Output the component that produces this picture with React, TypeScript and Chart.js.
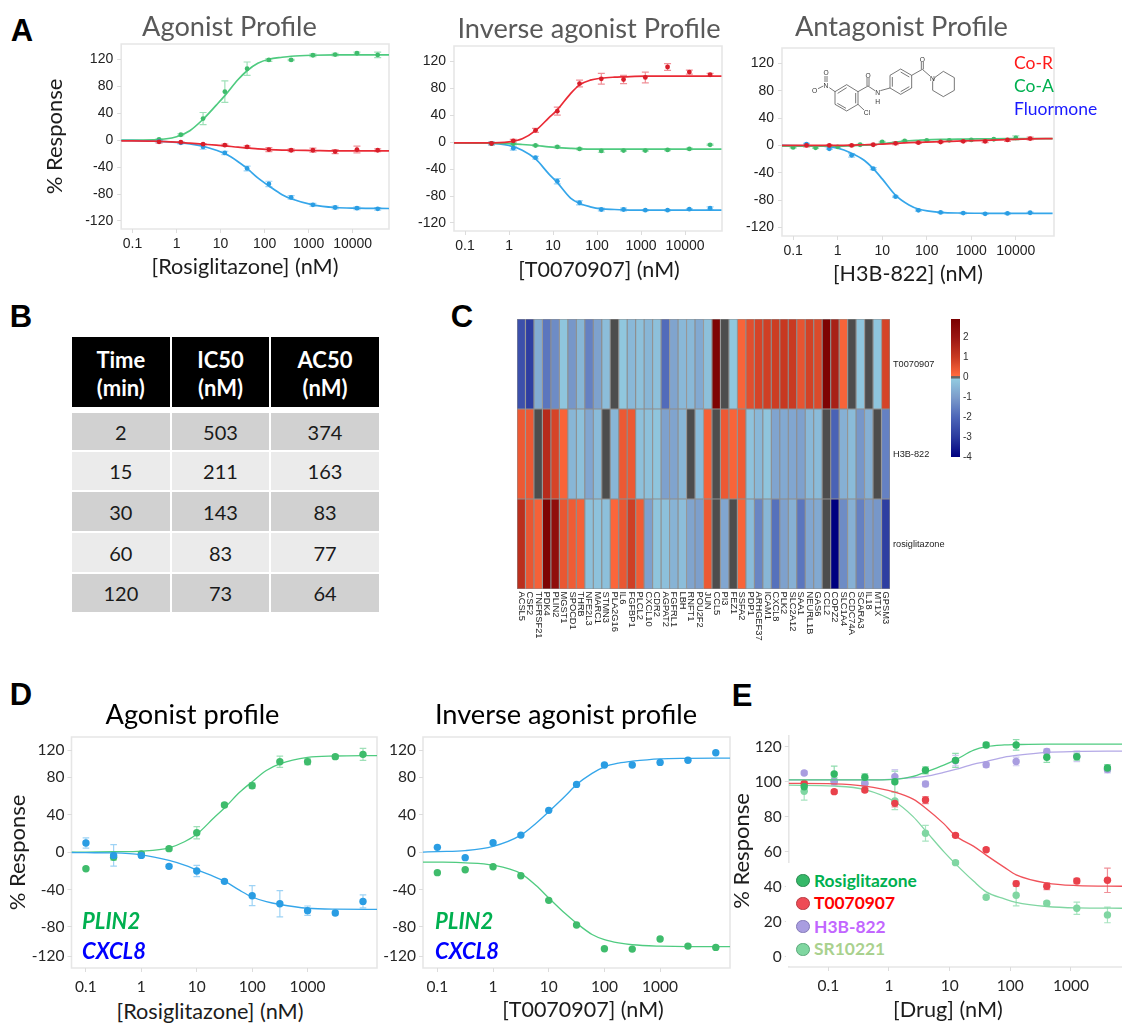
import React, { useEffect, useRef } from "react";
import { Chart, registerables } from "chart.js";

Chart.register(...registerables);

// ---------- Panel A data ----------
const doseA = [0.4, 1.25, 4, 12.5, 40, 125, 400, 1250, 4000, 12500, 37000];
const gridA = [0.055, 0.3, 1, 2, 4, 8, 12.5, 25, 40, 70, 125, 250, 400, 1250, 4000, 12500, 67000];

const a1GreenPts = [1, 8, 32, 72, 106, 119, 119, 126, 127, 129, 126.5];
const a1GreenErr = [1, 1.5, 9, 16, 10, 2, 1, 2, 2, 1.5, 4];
const a1GreenFit = [0, 0.5, 5, 14, 31, 52, 66, 90, 103, 114, 120, 123, 124.5, 126, 126.5, 126.5, 126.5];
const a1RedPts = [-2.5, -3, -6, -7.5, -10, -14, -15, -15, -17, -14, -15];
const a1RedErr = [2, 1, 1, 1.5, 1.5, 3, 2, 3, 3, 5, 2];
const a1RedFit = [-1, -1.5, -3, -4.5, -6, -7.5, -8.5, -10.5, -11.5, -13, -14, -14.8, -15, -15.5, -16, -16, -16];
const a1BluePts = [-2, -4, -10, -19, -42, -65, -85, -96, -100, -101, -102];
const a1BlueErr = [1, 1.5, 3.5, 2.5, 3.5, 4, 2.5, 2, 2, 2, 2];
const a1BlueFit = [-0.5, -1.5, -3.5, -5.5, -9, -15, -20, -32, -42, -56, -68, -81, -87, -96, -100, -101, -101.5];

const a2RedPts = [-2, 2, 17.5, 46, 87, 94, 93, 96, 111.5, 104, 100];
const a2RedErr = [2, 2, 3, 6, 5, 8, 6, 8, 5, 3, 2];
const a2RedFit = [-1, -1, 0.5, 5, 17, 36, 48, 72, 85, 92, 95, 96.5, 97, 98, 98, 98, 98];
const a2GreenPts = [-2, -2.5, -5, -7, -10, -13, -12.5, -12.5, -11.5, -10, -4];
const a2GreenErr = [1, 1, 1, 1, 1, 2, 1, 1, 1, 1, 1];
const a2GreenFit = [-1, -1.5, -2.3, -3.5, -5, -7, -8, -9.3, -10, -10.3, -10.5, -10.5, -10.5, -10.5, -10.5, -10.5, -10.5];
const a2BluePts = [-2, -9, -23, -58, -90, -100, -100, -101, -101, -99.5, -98];
const a2BlueErr = [2, 3, 2, 4, 3, 2, 2, 1, 1, 1, 2];
const a2BlueFit = [-1, -1.5, -5, -12, -25, -47, -60, -83, -91, -96, -99, -100, -100.5, -101, -101, -101, -101];

const doseA3Half = [0.2, 0.65, 2.06, 6.3, 20, 65, 205, 660, 2050, 6500, 21000];
const doseA3Green = [0.1, 0.32, 1, 3.2, 10, 32, 100, 320, 1000, 3200, 10000];
const gridA3 = [0.055, 0.3, 1, 2, 4, 6.3, 10, 20, 40, 65, 205, 660, 2050, 6500, 21000, 67000];
const a3BluePts = [2, -5, -14.5, -34, -75, -95, -98, -99, -100, -99.5, -98.5];
const a3BlueErr = [1, 1, 2.5, 1.5, 1, 1, 1, 1, 1, 1, 1];
const a3BlueFit = [0, -0.7, -4, -11, -22, -34, -49, -73, -87, -93, -98, -99, -99.3, -99.5, -99.5, -99.5];
const a3RedPts = [0, 0, 0, 1, 3, 4, 5, 6, 6, 8, 10];
const a3RedErr = [2, 1, 1, 1, 2, 1, 1, 1, 2, 2, 2];
const a3RedFit = [0, 0, 0, 0.3, 1, 1.3, 2, 3, 4, 4.5, 5.5, 6.5, 7.5, 8.5, 9.5, 10];
const a3GreenPts = [-3, -3.5, -2, 1, 5, 6.5, 7.5, 7.5, 8, 9, 11];
const a3GreenErr = [1, 1, 1, 1, 1, 1, 1, 1, 1, 1, 3];
const a3GreenFit = [-1, -1, -1, -0.5, 0.3, 1, 2.5, 5, 6.8, 7.5, 8.8, 9.3, 9.6, 9.9, 10, 10];

// ---------- Panel B data ----------
const tableHead = [["Time", "(min)"], ["IC50", "(nM)"], ["AC50", "(nM)"]];
const tableTime = ["2", "15", "30", "60", "120"];
const tableIC50 = ["503", "211", "143", "83", "73"];
const tableAC50 = ["374", "163", "83", "77", "64"];

// ---------- Panel C data ----------
const genes = ["ACSL5", "CSF2", "TNFRSF21", "PDK4", "PLIN2", "MGST1", "SPOCD1", "THRB", "NFE2L3", "MARC1", "STMN3", "PLA2G16", "IL6", "FGFBP1", "PLCL2", "CXCL10", "CDR2", "AGPAT2", "FGFRL1", "LBH", "RNFT1", "POU2F2", "JUN", "CCL5", "PI3", "FEZ1", "SSFA2", "PDP1", "ARHGEF37", "ICAM1", "CXCL8", "PLK2", "SLC2A12", "SAA1", "NEURL1B", "GAS6", "CCL2", "COPZ2", "SLC1A4", "CCDC74A", "SCARA3", "IL18", "MT1X", "GPSM3"];
const heatT = [-2.5, -2.9, -0.7, -1.7, -1.3, -0.2, -1.1, -0.5, -1.5, -0.9, -0.35, null, -0.15, -0.45, -0.3, -0.5, -0.3, -1.9, -0.85, -0.45, -0.45, -0.75, -0.3, 2.8, null, -0.15, 0.2, 0.6, 0.8, 0.9, 0.95, 1.05, 1.0, 0.5, 0.85, 0.7, 2.8, 1.7, 0.2, null, -0.2, null, -0.2, 0.8];
const heatH = [0.4, 0.4, null, 1.4, 0.8, 0.2, -0.5, -0.3, -0.8, -0.4, null, -0.5, 0.4, 0.4, -0.3, -0.3, -0.2, -0.9, -0.85, -0.5, null, -0.4, 0.25, null, 0.4, 0.2, 0.35, -0.25, -0.45, -0.2, -0.85, -0.75, -0.8, -0.9, -0.45, -0.4, null, -2.1, -0.6, -0.4, -1.1, -0.6, null, -1.5];
const heatR = [1.3, 0.45, 0.25, 2.8, 2.3, 0.45, 0.35, 0.25, -0.3, -0.25, -0.3, 0.15, 0.45, 0.9, 0.35, -0.9, -0.2, -0.3, -0.55, -0.35, -0.85, -0.95, 0.4, null, -0.8, null, 0.2, -0.4, -1.4, -0.5, -1.8, -0.9, -0.6, -1.7, -0.8, -0.75, null, -4, -1.3, -0.6, -1.5, -1, -1.1, -2.9];
const heatRows = ["T0070907", "H3B-822", "rosiglitazone"];
const heatStopValues = [2.93, 2, 1, 0.08, 0.04, -0.04, -0.08, -1, -2, -3, -4];
const heatStopColors = ["#7a0000", "#9a1512", "#c93a22", "#ff6a3d", "#666666", "#666666", "#92cbe0", "#7c9ccb", "#4d66b8", "#2a3a9e", "#000080"];
const barTicks = [2, 1, 0, -1, -2, -3, -4];

// ---------- Panel D data ----------
const doseD = [0.1, 0.316, 1, 3.16, 10, 31.6, 100, 316, 1000, 3162, 10000];
const gridD = [0.055, 0.1, 0.316, 1, 3.16, 6, 10, 20, 31.6, 60, 100, 180, 316, 1000, 3162, 18000];
const d1GreenPts = [-17.8, -5.7, -2.1, 3.6, 20.6, 50.2, 70.8, 96.4, 96.4, 101.8, 104.3];
const d1GreenErr = [1, 3, 2, 2, 6.5, 2, 3, 6, 3, 2, 6.4];
const d1GreenFit = [0, 0, 0.3, 1, 4.5, 11, 19, 36, 47, 64, 75, 87, 94, 101, 102.5, 103];
const d1BluePts = [9.6, -3.6, -3.6, -15.3, -20.3, -31.3, -46.6, -55.2, -62.6, -65.1, -52.7];
const d1BlueErr = [5.5, 11.5, 2, 2, 6, 2, 10.7, 14, 5, 2, 7];
const d1BlueFit = [-0.5, -0.7, -1, -3, -9, -14, -19, -26, -31, -41, -48, -53, -56, -60, -61, -61.2];
const d2BluePts = [5, -6, 10, 18.1, 44.5, 72.2, 92.9, 92.9, 95.7, 97.9, 106];
const d2BlueFit = [0, 0.5, 1.5, 6, 18, 31, 43, 60, 72, 84, 91, 95, 97, 99.5, 100, 100.3];
const d2GreenPts = [-22, -18.9, -15.7, -25.3, -51.6, -77.9, -103.2, -103.6, -92.9, -100.4, -101.8];
const d2GreenFit = [-10.7, -10.8, -11.5, -14, -23, -36, -49, -66, -76, -88, -93.5, -97, -99, -100.5, -101, -101];

// ---------- Panel E data ----------
const doseE = [0.04, 0.125, 0.4, 1.25, 4, 12.5, 40, 125, 400, 1250, 4000];
const gridE = [0.022, 0.125, 0.4, 1.25, 2.5, 4, 8, 12.5, 25, 40, 80, 125, 400, 1250, 7000];
const eRosiPts = [97.1, 104.4, 102.5, 100, 106.5, 112.2, 121, 121, 114, 114.3, 107.8];
const eRosiErr = [2, 4.5, 2, 6, 2, 4, 1.5, 3, 3, 2, 2];
const eRosiFit = [101, 101, 101, 101.3, 103, 105.5, 109.5, 112.5, 118, 120, 121, 121.2, 121.5, 121.5, 121.5];
const eT007Pts = [99, 94.3, 95.2, 87.6, 89.5, 69.3, 61.1, 41.7, 40.2, 43.2, 43.6];
const eT007Err = [1, 1, 1, 2, 2, 1, 1, 1.5, 2, 1.5, 7];
const eT007Fit = [99, 98.8, 97.5, 94, 90, 85, 76, 69, 63, 58, 51, 46.7, 42, 40.6, 40.2];
const eH3bPts = [105, 100, 99, 102.9, 98.7, 112, 109.7, 111.6, 117.3, 114.5, 107];
const eH3bErr = [1, 2, 1.5, 4, 1.5, 3, 1.5, 2.5, 1.5, 3, 2];
const eH3bFit = [101, 101, 101, 101.5, 102.3, 103, 105.3, 107, 110, 111.5, 114, 115, 116.8, 117.3, 117.5];
const eSrPts = [94.5, 100.4, 99, 89, 70.5, 53.7, 33.9, 35, 30.5, 27.6, 23.8];
const eSrErr = [5, 2, 2, 5, 4.5, 1, 1, 6, 1, 3.5, 4.5];
const eSrFit = [98, 97.5, 95.5, 88.5, 80, 72, 60, 53, 43, 37, 33, 31, 28.6, 27.8, 27.6];

// ---------- Axis ticks ----------
const logTicksA = [0.1, 1, 10, 100, 1000, 10000];
const logTicksD = [0.1, 1, 10, 100, 1000];
const yTicksA = [120, 80, 40, 0, -40, -80, -120];
const yTicksE = [120, 100, 80, 60, 40, 20, 0];
const yTicksDAt = [108.5, 80, 40, 0, -40, -80, -111.4];
const yTicksDText = ["120", "80", "40", "0", "-40", "-80", "-120"];

// ---------- Styles ----------
const SANS = "'Liberation Sans', Arial, sans-serif";
const CAL = "Lato, 'Open Sans', sans-serif";
const GREEN = { pt: "#3fbc6c", line: "#4fcb80", err: "#9fe0b8" };
const RED = { pt: "#d81e2a", line: "#ea2a35", err: "#f09098" };
const BLUE = { pt: "#2a9de3", line: "#35a6ea", err: "#9ed3f5" };

const pairs = (xs: number[], ys: number[]) => xs.map((x, i) => ({ x, y: ys[i] }));

function hexRgb(h: string) {
  return [parseInt(h.slice(1, 3), 16), parseInt(h.slice(3, 5), 16), parseInt(h.slice(5, 7), 16)];
}
function heatColor(v: number | null) {
  if (v === null) return "#4d4d4d";
  for (let i = 0; i < heatStopValues.length - 1; i++) {
    const a = heatStopValues[i], b = heatStopValues[i + 1];
    if (v <= a && v >= b) {
      const t = a === b ? 0 : (a - v) / (a - b);
      const c1 = hexRgb(heatStopColors[i]), c2 = hexRgb(heatStopColors[i + 1]);
      const m = c1.map((c, k) => Math.round(c + (c2[k] - c) * t));
      return `rgb(${m[0]},${m[1]},${m[2]})`;
    }
  }
  return "#000080";
}

const errorBars = {
  id: "errorBars",
  beforeDatasetsDraw(chart: any) {
    const { ctx, scales } = chart;
    chart.data.datasets.forEach((ds: any) => {
      if (!ds.errors) return;
      ctx.save();
      ctx.strokeStyle = ds.errorColor;
      ctx.lineWidth = 1.2;
      ds.data.forEach((p: any, i: number) => {
        const e = ds.errors[i];
        const x = scales.x.getPixelForValue(p.x);
        const y1 = scales.y.getPixelForValue(p.y + e);
        const y2 = scales.y.getPixelForValue(p.y - e);
        ctx.beginPath();
        ctx.moveTo(x, y1); ctx.lineTo(x, y2);
        ctx.moveTo(x - ds.capSize, y1); ctx.lineTo(x + ds.capSize, y1);
        ctx.moveTo(x - ds.capSize, y2); ctx.lineTo(x + ds.capSize, y2);
        ctx.stroke();
      });
      ctx.restore();
    });
  },
};

const frame = {
  id: "frame",
  beforeDraw(chart: any, _a: any, opts: any) {
    if (!opts.sides) return;
    const { ctx, chartArea: c } = chart;
    ctx.save();
    ctx.strokeStyle = opts.color || "#e6e6e6";
    ctx.lineWidth = opts.width || 1.6;
    ctx.beginPath();
    if (opts.sides === "all") {
      ctx.rect(c.left, c.top, c.right - c.left, c.bottom - c.top);
    } else {
      ctx.moveTo(c.left, c.top); ctx.lineTo(c.left, c.bottom); ctx.lineTo(c.right, c.bottom);
    }
    ctx.stroke();
    ctx.restore();
  },
};

const geneLabels = {
  id: "geneLabels",
  afterDraw(chart: any) {
    const { ctx, scales, chartArea } = chart;
    ctx.save();
    ctx.font = `9.3px ${SANS}`;
    ctx.fillStyle = "#222";
    ctx.textAlign = "left";
    ctx.textBaseline = "middle";
    genes.forEach((g, i) => {
      ctx.save();
      ctx.translate(scales.x.getPixelForTick(i), chartArea.bottom + 2.5);
      ctx.rotate(Math.PI / 2);
      ctx.fillText(g, 0, 0);
      ctx.restore();
    });
    ctx.restore();
  },
};

type Series = { xs: number[]; pts: number[]; err?: number[]; grid: number[]; fit: number[]; c: { pt: string; line: string; err: string } };

type Panel = {
  plot: [number, number, number, number];
  xMin: number; xMax: number; xTicks: number[];
  yMin: number; yMax: number; yTicks: number[]; yText?: string[];
  yTitle?: string; yTitleX?: number; titleSize?: number;
  font: { family: string; size: number }; tickColor: string;
  xPad: number; yPad: number;
  series: Series[]; r: number; lw: number; cap: number; sides: string;
};

function doseChart(p: Panel) {
  const [l, t, r, b] = p.plot;
  const fs = p.titleSize || 22;
  const cx = p.yTitle ? (p.yTitleX as number) - fs * 0.6 : l - 60;
  const cy = t - 16;
  const cr = Math.min(r + 6, 1125);
  const cb = b + 28;
  const config: any = {
    type: "scatter",
    data: {
      datasets: p.series.flatMap((s) => [
        {
          data: pairs(s.xs, s.pts),
          backgroundColor: s.c.pt,
          borderColor: s.c.pt,
          pointRadius: p.r,
          pointBorderWidth: 0,
          showLine: false,
          errors: s.err,
          errorColor: s.c.err,
          capSize: p.cap,
        },
        {
          data: pairs(s.grid, s.fit),
          borderColor: s.c.line,
          borderWidth: p.lw,
          pointRadius: 0,
          showLine: true,
          cubicInterpolationMode: "monotone",
          fill: false,
        },
      ]),
    },
    options: {
      animation: false,
      responsive: false,
      events: [],
      layout: { padding: { top: t - cy, right: cr - r, left: 0, bottom: 0 } },
      plugins: { legend: { display: false }, tooltip: { enabled: false }, frame: { sides: p.sides } },
      scales: {
        x: {
          type: "logarithmic",
          min: p.xMin,
          max: p.xMax,
          afterBuildTicks: (s: any) => { s.ticks = p.xTicks.map((v) => ({ value: v })); },
          afterFit: (s: any) => { s.height = cb - b; },
          border: { display: false },
          grid: { display: true, drawOnChartArea: false, drawTicks: true, tickLength: 4, color: "#dcdcdc" },
          ticks: { autoSkip: false, maxRotation: 0, padding: p.xPad, color: p.tickColor, font: p.font, callback: (v: any) => String(v) },
        },
        y: {
          type: "linear",
          min: p.yMin,
          max: p.yMax,
          afterBuildTicks: (s: any) => { s.ticks = p.yTicks.map((v) => ({ value: v })); },
          afterFit: (s: any) => { s.width = l - cx; },
          border: { display: false },
          grid: { display: true, drawOnChartArea: false, drawTicks: true, tickLength: 4, color: "#dcdcdc" },
          title: p.yTitle ? { display: true, text: p.yTitle, color: "#1c1c1c", padding: 0, font: { family: CAL, size: fs } } : { display: false },
          ticks: {
            autoSkip: false,
            padding: p.yPad,
            color: p.tickColor,
            font: p.font,
            callback: (v: any) => {
              const i = p.yTicks.indexOf(v);
              return p.yText && i >= 0 ? p.yText[i] : String(v);
            },
          },
        },
      },
    },
    plugins: [errorBars, frame],
  };
  return { rect: [cx, cy, cr - cx, cb - cy] as number[], config };
}

const aFont = { family: SANS, size: 14 };
const dFont = { family: CAL, size: 15.5 };

const panels: Panel[] = [
  {
    plot: [121, 44, 389, 229], xMin: 0.0553, xMax: 66800, xTicks: logTicksA,
    yMin: -131.9, yMax: 142.7, yTicks: yTicksA, yTitle: "% Response", yTitleX: 55,
    font: aFont, tickColor: "#222", xPad: 3, yPad: 4, r: 2.4, lw: 1.7, cap: 3.5, sides: "all",
    series: [
      { xs: doseA, pts: a1RedPts, err: a1RedErr, grid: gridA, fit: a1RedFit, c: RED },
      { xs: doseA, pts: a1BluePts, err: a1BlueErr, grid: gridA, fit: a1BlueFit, c: BLUE },
      { xs: doseA, pts: a1GreenPts, err: a1GreenErr, grid: gridA, fit: a1GreenFit, c: GREEN },
    ],
  },
  {
    plot: [454.3, 46, 722.3, 231], xMin: 0.0562, xMax: 69000, xTicks: logTicksA,
    yMin: -131.9, yMax: 142.7, yTicks: yTicksA,
    font: aFont, tickColor: "#222", xPad: 3, yPad: 4, r: 2.4, lw: 1.7, cap: 3.5, sides: "all",
    series: [
      { xs: doseA, pts: a2RedPts, err: a2RedErr, grid: gridA, fit: a2RedFit, c: RED },
      { xs: doseA, pts: a2GreenPts, err: a2GreenErr, grid: gridA, fit: a2GreenFit, c: GREEN },
      { xs: doseA, pts: a2BluePts, err: a2BlueErr, grid: gridA, fit: a2BlueFit, c: BLUE },
    ],
  },
  {
    plot: [782.3, 47.7, 1054.3, 236], xMin: 0.0563, xMax: 72000, xTicks: logTicksA,
    yMin: -132.5, yMax: 142.5, yTicks: yTicksA,
    font: aFont, tickColor: "#222", xPad: 3, yPad: 4, r: 2.4, lw: 1.7, cap: 3.5, sides: "all",
    series: [
      { xs: doseA3Half, pts: a3RedPts, err: a3RedErr, grid: gridA3, fit: a3RedFit, c: RED },
      { xs: doseA3Green, pts: a3GreenPts, err: a3GreenErr, grid: gridA3, fit: a3GreenFit, c: GREEN },
      { xs: doseA3Half, pts: a3BluePts, err: a3BlueErr, grid: gridA3, fit: a3BlueFit, c: BLUE },
    ],
  },
  {
    plot: [71.3, 736.7, 376.7, 967.7], xMin: 0.0549, xMax: 17900, xTicks: logTicksD,
    yMin: -123.8, yMax: 122.8, yTicks: yTicksDAt, yText: yTicksDText, yTitle: "% Response", yTitleX: 18,
    font: dFont, tickColor: "#262626", xPad: 6, yPad: 3, r: 3.7, lw: 1.3, cap: 3.3, sides: "all",
    series: [
      { xs: doseD, pts: d1BluePts, err: d1BlueErr, grid: gridD, fit: d1BlueFit, c: BLUE },
      { xs: doseD, pts: d1GreenPts, err: d1GreenErr, grid: gridD, fit: d1GreenFit, c: GREEN },
    ],
  },
  {
    plot: [423.3, 736.7, 730.7, 968], xMin: 0.0552, xMax: 18000, xTicks: logTicksD,
    yMin: -123.8, yMax: 122.8, yTicks: yTicksDAt, yText: yTicksDText,
    font: dFont, tickColor: "#262626", xPad: 6, yPad: 3, r: 3.7, lw: 1.3, cap: 3.3, sides: "all",
    series: [
      { xs: doseD, pts: d2BluePts, grid: gridD, fit: d2BlueFit, c: BLUE },
      { xs: doseD, pts: d2GreenPts, grid: gridD, fit: d2GreenFit, c: GREEN },
    ],
  },
  {
    plot: [788.3, 735, 1125, 967.3], xMin: 0.0223, xMax: 6950, xTicks: logTicksD,
    yMin: -6, yMax: 126.7, yTicks: yTicksE, yTitle: "% Response", yTitleX: 741.7,
    font: dFont, tickColor: "#262626", xPad: 6, yPad: 3, r: 3.7, lw: 1.3, cap: 3.3, sides: "axes",
    series: [
      { xs: doseE, pts: eRosiPts, err: eRosiErr, grid: gridE, fit: eRosiFit, c: { pt: "#33b866", line: "#4fcb80", err: "#8fdcae" } },
      { xs: doseE, pts: eT007Pts, err: eT007Err, grid: gridE, fit: eT007Fit, c: { pt: "#e9414b", line: "#f0525a", err: "#f09098" } },
      { xs: doseE, pts: eH3bPts, err: eH3bErr, grid: gridE, fit: eH3bFit, c: { pt: "#a99de0", line: "#b3a8e6", err: "#d0c9f0" } },
      { xs: doseE, pts: eSrPts, err: eSrErr, grid: gridE, fit: eSrFit, c: { pt: "#80d6a2", line: "#80d6a2", err: "#a8e4c0" } },
    ],
  },
];

function heatmapChart() {
  const [l, t, r, b] = [516.7, 319.3, 890, 589];
  const cx = l - 2, cy = t - 14, cr = r + 62, cb = b + 62;
  const rowsBottomUp = [heatR, heatH, heatT];
  const config: any = {
    type: "bar",
    data: {
      labels: genes,
      datasets: rowsBottomUp.map((row) => ({
        data: row.map(() => 1),
        backgroundColor: row.map(heatColor),
        borderColor: "#8e8e8e",
        borderWidth: 0.9,
        borderSkipped: false,
        barPercentage: 1,
        categoryPercentage: 1,
      })),
    },
    options: {
      animation: false,
      responsive: false,
      events: [],
      layout: { padding: { top: t - cy, left: l - cx, right: 0, bottom: 0 } },
      plugins: { legend: { display: false }, tooltip: { enabled: false } },
      scales: {
        x: {
          stacked: true,
          afterFit: (s: any) => { s.height = cb - b; },
          grid: { display: false, drawTicks: false },
          border: { display: false },
          ticks: { display: false, autoSkip: false },
        },
        y: {
          stacked: true,
          position: "right",
          min: 0,
          max: 3,
          afterBuildTicks: (s: any) => { s.ticks = [2.5, 1.5, 0.5].map((v) => ({ value: v })); },
          afterFit: (s: any) => { s.width = cr - r; },
          grid: { display: false, drawTicks: false },
          border: { display: false },
          ticks: {
            padding: 3,
            color: "#222",
            font: { family: SANS, size: 9.2 },
            callback: (v: any) => heatRows[[2.5, 1.5, 0.5].indexOf(v)],
          },
        },
      },
    },
    plugins: [geneLabels],
  };
  return { rect: [cx, cy, cr - cx, cb - cy], config };
}

function colorBarChart() {
  const [l, t, r, b] = [951, 319.3, 960.3, 457.3];
  const cx = l - 2, cy = t - 12, cr = r + 24, cb = b + 12;
  const top = 2.93, bottom = -4;
  const config: any = {
    type: "bar",
    data: {
      labels: ["scale"],
      datasets: [
        {
          data: [[bottom, top]],
          barPercentage: 1,
          categoryPercentage: 1,
          borderWidth: 0,
          backgroundColor: (ctx: any) => {
            const a = ctx.chart.chartArea;
            if (!a) return "#888";
            const g = ctx.chart.ctx.createLinearGradient(0, a.top, 0, a.bottom);
            heatStopValues.forEach((v, i) => g.addColorStop((top - v) / (top - bottom), heatStopColors[i]));
            return g;
          },
        },
      ],
    },
    options: {
      animation: false,
      responsive: false,
      events: [],
      layout: { padding: { top: t - cy, left: l - cx, right: 0, bottom: 0 } },
      plugins: { legend: { display: false }, tooltip: { enabled: false } },
      scales: {
        x: { afterFit: (s: any) => { s.height = cb - b; }, grid: { display: false, drawTicks: false }, border: { display: false }, ticks: { display: false } },
        y: {
          position: "right",
          min: bottom,
          max: top,
          afterBuildTicks: (s: any) => { s.ticks = barTicks.map((v) => ({ value: v })); },
          afterFit: (s: any) => { s.width = cr - r; },
          grid: { display: false, drawTicks: false },
          border: { display: false },
          ticks: { padding: 3, color: "#333", font: { family: SANS, size: 10 }, callback: (v: any) => String(v) },
        },
      },
    },
  };
  return { rect: [cx, cy, cr - cx, cb - cy], config };
}

function ChartBox({ build }: { build: () => { rect: number[]; config: any } }) {
  const ref = useRef<HTMLCanvasElement>(null);
  const built = useRef(build());
  const { rect, config } = built.current;
  useEffect(() => {
    const chart = new Chart(ref.current as HTMLCanvasElement, config);
    return () => chart.destroy();
  }, []);
  return (
    <canvas
      ref={ref}
      width={Math.round(rect[2])}
      height={Math.round(rect[3])}
      style={{ position: "absolute", left: rect[0], top: rect[1], width: Math.round(rect[2]), height: Math.round(rect[3]) }}
    />
  );
}

function Txt({ x, y, s, size, color = "#000", bold, italic, font = CAL, anchor = "center" }: any) {
  return (
    <div
      style={{
        position: "absolute",
        left: x,
        top: y,
        transform: anchor === "center" ? "translate(-50%,-50%)" : "translate(0,-50%)",
        whiteSpace: "nowrap",
        fontFamily: font,
        fontSize: size,
        color,
        fontWeight: bold ? 700 : 400,
        fontStyle: italic ? "italic" : "normal",
        lineHeight: 1,
      }}
    >
      {s}
    </div>
  );
}

const tableCols = [[71.7, 170], [172, 269], [271, 379]];
const tableRows = [[413.3, 450], [452, 490.3], [492.3, 531.3], [533.3, 572], [574, 612]];

function Table() {
  const cols = [tableTime, tableIC50, tableAC50];
  return (
    <>
      {tableCols.map((c, i) => (
        <div key={"h" + i} style={{ position: "absolute", left: c[0], top: 337.3, width: c[1] - c[0], height: 70, background: "#000" }} />
      ))}
      {tableCols.map((c, i) => (
        <React.Fragment key={"t" + i}>
          <Txt x={(c[0] + c[1]) / 2} y={360} s={tableHead[i][0]} size={22} bold color="#fff" />
          <Txt x={(c[0] + c[1]) / 2} y={388} s={tableHead[i][1]} size={22} bold color="#fff" />
        </React.Fragment>
      ))}
      {tableRows.map((r, ri) =>
        tableCols.map((c, ci) => (
          <React.Fragment key={ri + "-" + ci}>
            <div style={{ position: "absolute", left: c[0], top: r[0], width: c[1] - c[0], height: r[1] - r[0], background: ri % 2 ? "#ebebeb" : "#d1d1d1" }} />
            <Txt x={(c[0] + c[1]) / 2} y={(r[0] + r[1]) / 2} s={cols[ci][ri]} size={20} color="#1a1a1a" />
          </React.Fragment>
        ))
      )}
    </>
  );
}

function Molecule() {
  const line = { fill: "none", stroke: "#333", strokeWidth: 2 };
  const label = { fontFamily: SANS, fontSize: 20, fill: "#333", textAnchor: "middle" as const, dominantBaseline: "central" as const };
  return (
    <svg viewBox="0 0 1155 900" style={{ position: "absolute", left: 740, top: 0, width: 385, height: 300 }}>
      <polygon points="320,254 354,275 354,313 320,333 285,313 285,275" {...line} />
      <polyline points="293,280 320,263" {...line} />
      <polyline points="347,310 347,279" {...line} />
      <polyline points="292,310 318,325" {...line} />
      <polygon points="482,207 515,226 515,264 482,283 450,264 450,226" {...line} />
      <polyline points="482,216 508,231" {...line} />
      <polyline points="508,260 482,275" {...line} />
      <polyline points="457,260 457,231" {...line} />
      <polygon points="585,232 610,214 643,233 643,271 610,290 578,271 578,245" {...line} />
      <polyline points="285,275 268,263" {...line} />
      <polyline points="250,258 234,266" {...line} />
      <polyline points="255,246 255,228" {...line} />
      <polyline points="261,246 261,228" {...line} />
      <polyline points="354,275 384,258 405,272" {...line} />
      <polyline points="381,258 381,234" {...line} />
      <polyline points="387,258 387,234" {...line} />
      <polyline points="421,272 450,264" {...line} />
      <polyline points="354,313 372,330" {...line} />
      <polyline points="515,226 547,208 570,228" {...line} />
      <polyline points="544,208 544,186" {...line} />
      <polyline points="550,208 550,186" {...line} />
      <text x={258} y={255} {...label}>N</text>
      <text x={224} y={270} {...label}>O</text>
      <text x={258} y={218} {...label}>O</text>
      <text x={384} y={225} {...label}>O</text>
      <text x={413} y={278} {...label}>N</text>
      <text x={413} y={304} {...label}>H</text>
      <text x={381} y={337} {...label}>Cl</text>
      <text x={547} y={177} {...label}>O</text>
      <text x={577} y={235} {...label}>N</text>
    </svg>
  );
}

const legendE = [
  { s: "Rosiglitazone", text: "#00b050", fill: "#35b868", edge: "#2a8a50", y: 880.5 },
  { s: "T0070907", text: "#ff0000", fill: "#ee4b55", edge: "#b83a42", y: 903.3 },
  { s: "H3B-822", text: "#c266ff", fill: "#a99de0", edge: "#8479b8", y: 926.7 },
  { s: "SR10221", text: "#a9d18e", fill: "#7fd6a0", edge: "#5ba87a", y: 949.3 },
];

export default function App() {
  return (
    <div style={{ position: "fixed", left: 0, top: 0, width: 1125, height: 1024, overflow: "hidden", background: "#fff" }}>
      {panels.map((p, i) => (
        <ChartBox key={i} build={() => doseChart(p)} />
      ))}
      <ChartBox build={heatmapChart} />
      <ChartBox build={colorBarChart} />
      <Table />
      <Molecule />

      <Txt x={22} y={30} s="A" size={31} bold font={SANS} />
      <Txt x={21} y={316} s="B" size={31} bold font={SANS} />
      <Txt x={462} y={316} s="C" size={31} bold font={SANS} />
      <Txt x={21} y={694} s="D" size={31} bold font={SANS} />
      <Txt x={742} y={695} s="E" size={31} bold font={SANS} />

      <Txt x={229.5} y={26} s="Agonist Profile" size={27.2} color="#595959" />
      <Txt x={589} y={28} s="Inverse agonist Profile" size={27.2} color="#595959" />
      <Txt x={901.5} y={26} s="Antagonist Profile" size={27.2} color="#595959" />
      <Txt x={192.5} y={714} s="Agonist profile" size={27.2} />
      <Txt x={566} y={714} s="Inverse agonist profile" size={27.2} />

      <Txt x={245} y={267} s="[Rosiglitazone] (nM)" size={21.7} color="#1c1c1c" />
      <Txt x={599} y={270} s="[T0070907] (nM)" size={21.5} color="#1c1c1c" />
      <Txt x={908} y={274} s="[H3B-822] (nM)" size={21.5} color="#1c1c1c" />
      <Txt x={210} y={1012} s="[Rosiglitazone] (nM)" size={21.7} color="#1c1c1c" />
      <Txt x={583} y={1010} s="[T0070907] (nM)" size={21.5} color="#1c1c1c" />
      <Txt x={948} y={1010} s="[Drug] (nM)" size={21.7} color="#1c1c1c" />

      <Txt x={1014} y={63} s="Co-R" size={17.5} color="#ff1a1a" anchor="left" />
      <Txt x={1014} y={86} s="Co-A" size={17.5} color="#00b050" anchor="left" />
      <Txt x={1014} y={109} s="Fluormone" size={17.5} color="#1a1aff" anchor="left" />

      <Txt x={82} y={921} s="PLIN2" size={22} bold italic color="#00b050" anchor="left" />
      <Txt x={82} y={951} s="CXCL8" size={22} bold italic color="#0000ff" anchor="left" />
      <Txt x={435} y={921} s="PLIN2" size={22} bold italic color="#00b050" anchor="left" />
      <Txt x={435} y={951} s="CXCL8" size={22} bold italic color="#0000ff" anchor="left" />

      <div style={{ position: "absolute", left: 786, top: 863, width: 140, height: 102.5, background: "#fff" }} />
      {legendE.map((e) => (
        <React.Fragment key={e.s}>
          <div
            style={{
              position: "absolute",
              left: 796,
              top: e.y - 6.8,
              width: 13.6,
              height: 13.6,
              boxSizing: "border-box",
              borderRadius: "50%",
              background: e.fill,
              border: `1px solid ${e.edge}`,
            }}
          />
          <Txt x={814} y={e.y} s={e.s} size={17.4} bold color={e.text} anchor="left" />
        </React.Fragment>
      ))}
    </div>
  );
}
